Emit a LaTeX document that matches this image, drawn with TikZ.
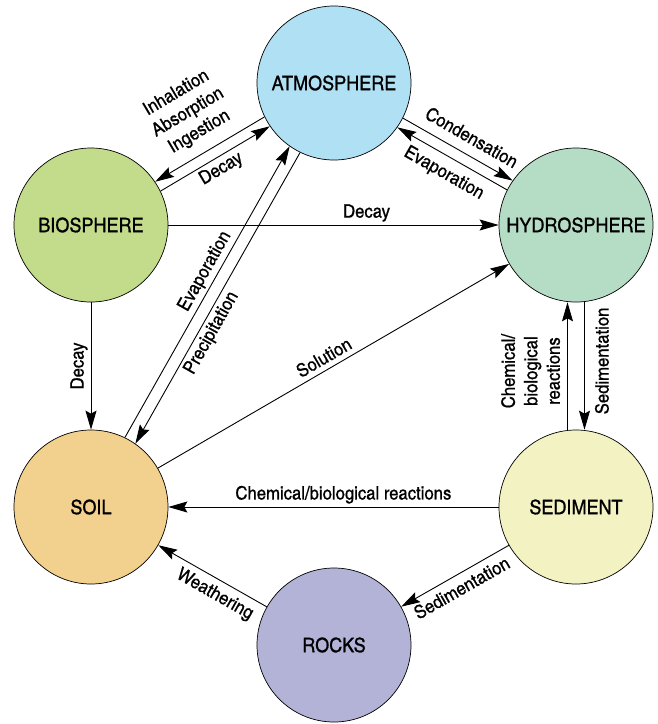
\documentclass[tikz,border=0pt]{standalone}
\usepackage{fontspec}
\setmainfont{texgyreheroscn-regular.otf}[FakeStretch=1.1, FakeBold=0.8]
\usetikzlibrary{arrows.meta}

\definecolor{atmblue}{RGB}{176,224,244}
\definecolor{biogreen}{RGB}{194,220,140}
\definecolor{hydgreen}{RGB}{181,220,196}
\definecolor{soilorange}{RGB}{242,208,142}
\definecolor{sedyellow}{RGB}{243,242,194}
\definecolor{rockviolet}{RGB}{179,179,216}

\tikzset{
  sphere/.style={circle, draw, line width=0.7pt, minimum size=154pt, inner sep=0pt,
    font=\fontsize{20}{24}\selectfont},
  flow/.style={line width=0.9pt, -{Stealth[length=19pt,width=11pt,inset=3pt]}},
  back/.style={line width=0.9pt, {Stealth[length=19pt,width=11pt,inset=3pt]}-},
  lbl/.style={font=\fontsize{18.5}{22.5}\selectfont, inner sep=3pt}
}

\begin{document}
\begin{tikzpicture}[x=1pt, y=1pt]
\useasboundingbox (0,0) rectangle (658,-724);

\node[sphere, fill=atmblue] (atm) at (334,-83) {ATMOSPHERE};
\node[sphere, fill=biogreen] (bio) at (91,-225) {BIOSPHERE};
\node[sphere, fill=hydgreen] (hyd) at (576,-225) {HYDROSPHERE};
\node[sphere, fill=soilorange] (soil) at (91,-507) {SOIL};
\node[sphere, fill=sedyellow] (sed) at (576,-507) {SEDIMENT};
\node[sphere, fill=rockviolet] (rocks) at (334,-645) {ROCKS};

% atmosphere - biosphere
\draw[back] (bio.34.5) -- (atm.206.1) node[lbl, midway, sloped, above=8pt, align=center] {Inhalation\\Absorption\\Ingestion};
\draw[flow] (bio.26.1) -- (atm.214.5) node[lbl, midway, sloped, below] {Decay};

% atmosphere - hydrosphere
\draw[flow] (atm.333.8) -- (hyd.145.4) node[lbl, pos=0.55, sloped, above=7pt] {Condensation};
\draw[back] (atm.325.4) -- (hyd.153.8) node[lbl, midway, sloped, below=5pt] {Evaporation};

\draw[flow] (bio) -- (hyd) node[lbl, pos=0.6, above] {Decay};
\draw[back] (soil) -- (bio) node[lbl, midway, sloped, above] {Decay};

% soil - atmosphere
\draw[flow] (soil.64.7) -- (atm.235.7) node[lbl, pos=0.55, sloped, above] {Evaporation};
\draw[back] (soil.55.7) -- (atm.244.7) node[lbl, pos=0.4, sloped, below] {Precipitation};

\draw[flow] (soil) -- (hyd) node[lbl, pos=0.49, sloped, above=2pt] {Solution};

% sediment - hydrosphere
\draw[flow] ([xshift=-8.5pt]sed.north) -- ([xshift=-8.5pt]hyd.south) node[lbl, pos=0.46, sloped, above=4pt, align=center] {Chemical/\\biological\\reactions};
\draw[back] ([xshift=8.5pt]sed.north) -- ([xshift=8.5pt]hyd.south) node[lbl, pos=0.54, sloped, below=7pt] {Sedimentation};

\draw[back] (soil) -- (sed) node[lbl, pos=0.53, above] {Chemical/biological reactions};
\draw[back] (rocks) -- (sed) node[lbl, midway, sloped, below=3pt] {Sedimentation};
\draw[back] (soil) -- (rocks) node[lbl, pos=0.59, sloped, below=3pt] {Weathering};
\end{tikzpicture}
\end{document}
